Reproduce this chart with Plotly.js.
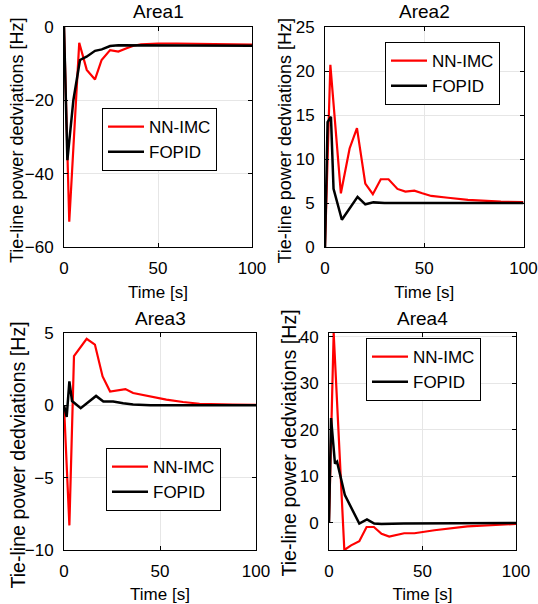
<!DOCTYPE html>
<html>
<head>
<meta charset="utf-8">
<script src="https://cdn.plot.ly/plotly-3.0.1.min.js"></script>
<style>html,body{margin:0;padding:0;background:#fff;}#chart{width:538px;height:604px;}</style>
</head>
<body>
<div id="chart"></div>
<script>
// ---- data ----
const seriesNames = ["NN-IMC", "FOPID"];
const areaTitles = ["Area1", "Area2", "Area3", "Area4"];
const xLabel = "Time [s]";
const yLabel = "Tie-line power dedviations [Hz]";

const t1_nn = [0, 2.8, 8.1, 12.1, 16.5, 20, 24.5, 28.9, 33.3, 37, 41, 50, 60, 70, 80, 90, 100];
const y1_nn = [0, -53.1, -4.3, -11.7, -14.3, -9, -6.3, -6.7, -5.8, -5.1, -4.7, -4.5, -4.5, -4.6, -4.7, -4.8, -4.8];
const t1_fo = [0, 1.8, 5, 8.5, 12, 16.5, 20.1, 24.5, 28.9, 35, 50, 100];
const y1_fo = [0, -36.3, -19.9, -9, -8.1, -6.5, -6.1, -5.2, -5.0, -5.0, -5.0, -5.1];

const t2_nn = [0, 2.7, 8, 12.4, 16.1, 20.3, 24.1, 28.1, 32, 36.5, 40.5, 45, 49, 53.5, 62, 72, 88.6, 100];
const y2_nn = [0, 20.7, 6.1, 11.2, 13.5, 7.2, 6.0, 7.7, 7.7, 6.6, 6.3, 6.4, 6.1, 5.8, 5.6, 5.35, 5.15, 5.1];
const t2_fo = [0, 1.3, 3, 4.3, 8.5, 12.3, 16.4, 20.3, 24.4, 30, 100];
const y2_fo = [0, 14.2, 14.8, 6.6, 3.1, 4.4, 5.7, 4.85, 5.07, 5.0, 5.0];

const t3_nn = [0, 2.8, 5.2, 11.8, 16.1, 20.1, 24, 28.3, 32, 36, 40.3, 44.6, 53.3, 62, 70.6, 88, 100];
const y3_nn = [0, -8.3, 3.4, 4.6, 4.2, 2.0, 0.95, 1.05, 1.12, 0.85, 0.74, 0.62, 0.39, 0.23, 0.11, 0.05, 0.03];
const t3_fo = [0, 1.4, 2.8, 4.2, 8.7, 12.7, 16.7, 20.5, 25.6, 30.8, 36, 45, 100];
const y3_fo = [0, -0.8, 1.65, 0.3, -0.2, 0.24, 0.65, 0.26, 0.26, 0.14, 0.05, 0.0, 0.0];

const t4_nn = [0, 2.5, 8.2, 11.8, 16.2, 20.1, 24, 28.1, 32.2, 36.7, 40.2, 45.7, 56.4, 74, 92, 100];
const y4_nn = [0, 40.8, -5.9, -4.9, -4.0, -0.95, -0.95, -2.4, -3.0, -2.6, -2.3, -2.3, -1.65, -0.8, -0.36, -0.3];
const t4_fo = [0, 1.1, 3.2, 4.3, 8.5, 12.6, 16.2, 20.3, 24.2, 28, 40, 100];
const y4_fo = [0, 22.5, 12.7, 13.1, 5.9, 2.8, -0.2, 0.7, -0.2, -0.3, -0.2, -0.1];

const yRanges = [[-60, 0], [0, 25], [-10, 5], [-5.9, 40.8]];
const yTicks = [[-60, -40, -20, 0], [0, 5, 10, 15, 20, 25], [-10, -5, 0, 5], [0, 10, 20, 30, 40]];
const xTicks = [0, 50, 100];

// ---- layout geometry (pixels) ----
const W = 538, H = 604;
const boxes = [ // [left, right, top, bottom]
  [64, 252, 27, 247],
  [325, 523.5, 27, 247],
  [64, 256, 333, 550],
  [329, 516, 333, 550]
];
const legendPos = [[102, 108], [385, 42], [106, 448], [366, 338]];
const titleY = [12, 12, 318.5, 318];
const yTitlePos = [[17, 141, 18], [284.5, 141, 18], [17.5, 455, 19.6], [288.5, 443, 19.6]];

const tt = [[t1_nn, y1_nn, t1_fo, y1_fo], [t2_nn, y2_nn, t2_fo, y2_fo], [t3_nn, y3_nn, t3_fo, y3_fo], [t4_nn, y4_nn, t4_fo, y4_fo]];
const colors = ["#ff0000", "#000000"];
const widths = [2.2, 2.5];

const FONT = "Arial, Liberation Sans, sans-serif";
const traces = [];
const layout = {
  width: W, height: H,
  margin: {l: 0, r: 0, t: 0, b: 0},
  paper_bgcolor: "#fff", plot_bgcolor: "#fff",
  font: {family: FONT, size: 17, color: "#000", weight: 400},
  showlegend: true,
  annotations: []
};

for (let i = 0; i < 4; i++) {
  const n = i + 1;
  const xa = n === 1 ? "x" : "x" + n, ya = n === 1 ? "y" : "y" + n;
  const lg = n === 1 ? "legend" : "legend" + n;
  const d = tt[i];
  for (let s = 0; s < 2; s++) {
    traces.push({
      x: d[s * 2], y: d[s * 2 + 1], type: "scatter", mode: "lines",
      name: seriesNames[s], xaxis: xa, yaxis: ya, legend: lg,
      line: {color: colors[s], width: widths[s]}
    });
  }
  const b = boxes[i];
  const common = {
    showline: true, linecolor: "#000", linewidth: 1, mirror: "allticks",
    ticks: "inside", ticklen: 4, tickcolor: "#000", tickwidth: 1,
    showgrid: true, gridcolor: "#e6e6e6", gridwidth: 1, zeroline: false,
    ticklabeloverflow: "allow", automargin: false,
    tickfont: {family: FONT, size: 17, color: "#000", weight: 400}
  };
  layout["xaxis" + (n === 1 ? "" : n)] = Object.assign({}, common, {
    domain: [b[0] / W, b[1] / W], anchor: ya, range: [0, 100],
    tickmode: "array", tickvals: xTicks, ticklabelstandoff: 6,
    title: {text: xLabel, standoff: 8, font: {family: FONT, size: 17, color: "#000", weight: 400}}
  });
  layout["yaxis" + (n === 1 ? "" : n)] = Object.assign({}, common, {
    domain: [1 - b[3] / H, 1 - b[2] / H], anchor: xa, range: yRanges[i],
    tickmode: "array", tickvals: yTicks[i], ticklabelstandoff: 6
  });
  const lp = legendPos[i];
  layout[lg] = {
    x: lp[0] / W, y: 1 - lp[1] / H, xanchor: "left", yanchor: "top",
    xref: "paper", yref: "paper", itemwidth: 36,
    bgcolor: "#fff", bordercolor: "#000", borderwidth: 1,
    font: {family: FONT, size: 17, color: "#000", weight: 400}, tracegroupgap: 0
  };
  layout.annotations.push({
    text: areaTitles[i], xref: "paper", yref: "paper",
    x: (b[0] + b[1]) / 2 / W, y: 1 - titleY[i] / H, xanchor: "center", yanchor: "middle",
    showarrow: false, font: {family: FONT, size: 19, color: "#000", weight: 400}
  });
  const yp = yTitlePos[i];
  layout.annotations.push({
    text: yLabel, xref: "paper", yref: "paper", textangle: -90,
    x: yp[0] / W, y: 1 - yp[1] / H, xanchor: "center", yanchor: "middle",
    showarrow: false, font: {family: FONT, size: yp[2], color: "#000", weight: 400}
  });
}

Plotly.newPlot("chart", traces, layout, {staticPlot: true, displayModeBar: false});
</script>
</body>
</html>
